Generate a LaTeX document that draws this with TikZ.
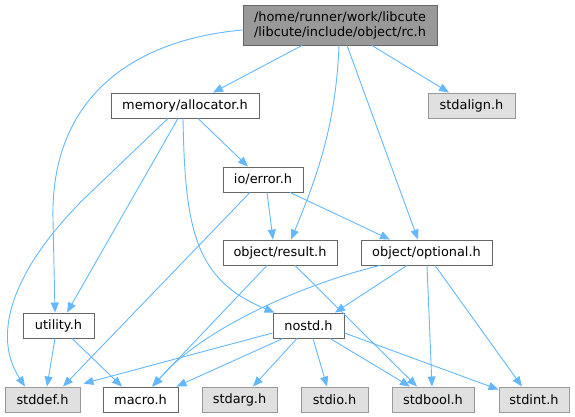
\documentclass[tikz,border=0pt]{standalone}
\usepackage{fontspec}
\setmainfont{DejaVu Sans}
\usetikzlibrary{arrows.meta}
\definecolor{edgeblue}{HTML}{63B8FF}
\definecolor{rootgray}{HTML}{999999}
\definecolor{sysgray}{HTML}{E0E0E0}
\definecolor{framegray}{HTML}{666666}
\begin{document}
\begin{tikzpicture}[x=1pt, y=-1pt,
    font=\fontsize{12.9}{15}\selectfont,
    box/.style = {draw=framegray, fill=white, line width=0.9pt, inner sep=0pt, minimum height=25pt},
    sys/.style = {box, draw=rootgray, fill=sysgray},
    root/.style = {box, fill=rootgray, minimum height=40pt, align=center},
    edge/.style = {draw=edgeblue, line width=0.9pt, -{Triangle[length=10pt,width=8pt]}}]
    \useasboundingbox (0,0) rectangle (575,417);
    \node[root, minimum width=194pt] (rc) at (340,25) {/home/runner/work/libcute\\/libcute/include/object/rc.h};
    \node[box, minimum width=148pt] (alloc) at (185,105.5) {memory/allocator.h};
    \node[sys, minimum width=87pt] (stdalign) at (471.5,105.5) {stdalign.h};
    \node[box, minimum width=80pt] (err) at (263,179.5) {io/error.h};
    \node[box, minimum width=114pt] (result) at (280,252.5) {object/result.h};
    \node[box, minimum width=131pt] (optional) at (426.5,252.5) {object/optional.h};
    \node[box, minimum width=71pt] (utility) at (58.5,325.5) {utility.h};
    \node[box, minimum width=71pt] (nostd) at (308.5,325.5) {nostd.h};
    \node[sys, minimum width=75pt] (stddef) at (42.5,399.5) {stddef.h};
    \node[box, minimum width=75pt] (macro) at (140.5,399.5) {macro.h};
    \node[sys, minimum width=75pt] (stdarg) at (239.5,399.5) {stdarg.h};
    \node[sys, minimum width=67pt] (stdio) at (334.5,399.5) {stdio.h};
    \node[sys, minimum width=82pt] (stdbool) at (433,399.5) {stdbool.h};
    \node[sys, minimum width=70pt] (stdint) at (534,399.5) {stdint.h};
    % rc.h
    \draw[edge] ([xshift=-38pt]rc.south) -- ([xshift=28pt]alloc.north);
    \draw[edge] ([yshift=-5pt]rc.west) .. controls (130,40) and (50,100) .. (53,220) -- ([xshift=-3.5pt]utility.north);
    \draw[edge] ([xshift=32pt]rc.south) -- ([xshift=-22.5pt]stdalign.north);
    \draw[edge] ([xshift=-1pt]rc.south) .. controls (336,120) and (320,170) .. ([xshift=11pt]result.north);
    \draw[edge] ([xshift=7pt]rc.south) -- ([xshift=-8.5pt]optional.north);
    % memory/allocator.h
    \draw[edge] ([xshift=13pt]alloc.south) -- ([xshift=-15pt]err.north);
    \draw[edge] ([xshift=-17pt]alloc.south) -- (90,193) .. controls (20,260) and (-12,330) .. ([xshift=-17.5pt]stddef.north);
    \draw[edge] ([xshift=-7pt]alloc.south) -- ([xshift=8.5pt]utility.north);
    \draw[edge] ([xshift=-2pt]alloc.south) .. controls (185,230) and (195,280) .. ([xshift=2pt]nostd.north west);
    % io/error.h
    \draw[edge] ([xshift=4pt]err.south) -- ([xshift=-7pt]result.north);
    \draw[edge] ([xshift=27pt]err.south) -- ([xshift=-36.5pt]optional.north);
    \draw[edge] ([xshift=-13pt]err.south) -- ([xshift=20.5pt]stddef.north);
    % object/result.h
    \draw[edge] ([xshift=-13pt]result.south) -- ([xshift=11.5pt]macro.north);
    \draw[edge] ([xshift=15pt]result.south) -- ([xshift=-16pt]stdbool.north);
    % object/optional.h
    \draw[edge] ([xshift=-46.5pt]optional.south) .. controls (300,285) and (200,330) .. ([xshift=12.5pt]macro.north);
    \draw[edge] ([xshift=-19.5pt]optional.south) -- ([xshift=26.5pt]nostd.north);
    \draw[edge] ([xshift=0.5pt]optional.south) -- ([xshift=-1pt]stdbool.north);
    \draw[edge] ([xshift=8.5pt]optional.south) -- ([xshift=-12pt]stdint.north);
    % nostd.h
    \draw[edge] ([yshift=-7.5pt]nostd.west) -- ([xshift=3pt,yshift=3pt]stddef.north east);
    \draw[edge] ([xshift=-25.5pt]nostd.south) -- ([xshift=-2pt]macro.north east);
    \draw[edge] ([xshift=-11.5pt]nostd.south) -- ([xshift=13.5pt]stdarg.north);
    \draw[edge] ([xshift=4.5pt]nostd.south) -- ([xshift=-7.5pt]stdio.north);
    \draw[edge] ([xshift=21.5pt]nostd.south) -- ([xshift=-23pt]stdbool.north);
    \draw[edge] ([yshift=-7.5pt]nostd.east) -- ([yshift=-3pt]stdint.north west);
    % utility.h
    \draw[edge] ([xshift=-3.5pt]utility.south) -- ([xshift=4.5pt]stddef.north);
    \draw[edge] ([xshift=13.5pt]utility.south) -- ([xshift=-18.5pt]macro.north);
\end{tikzpicture}
\end{document}
